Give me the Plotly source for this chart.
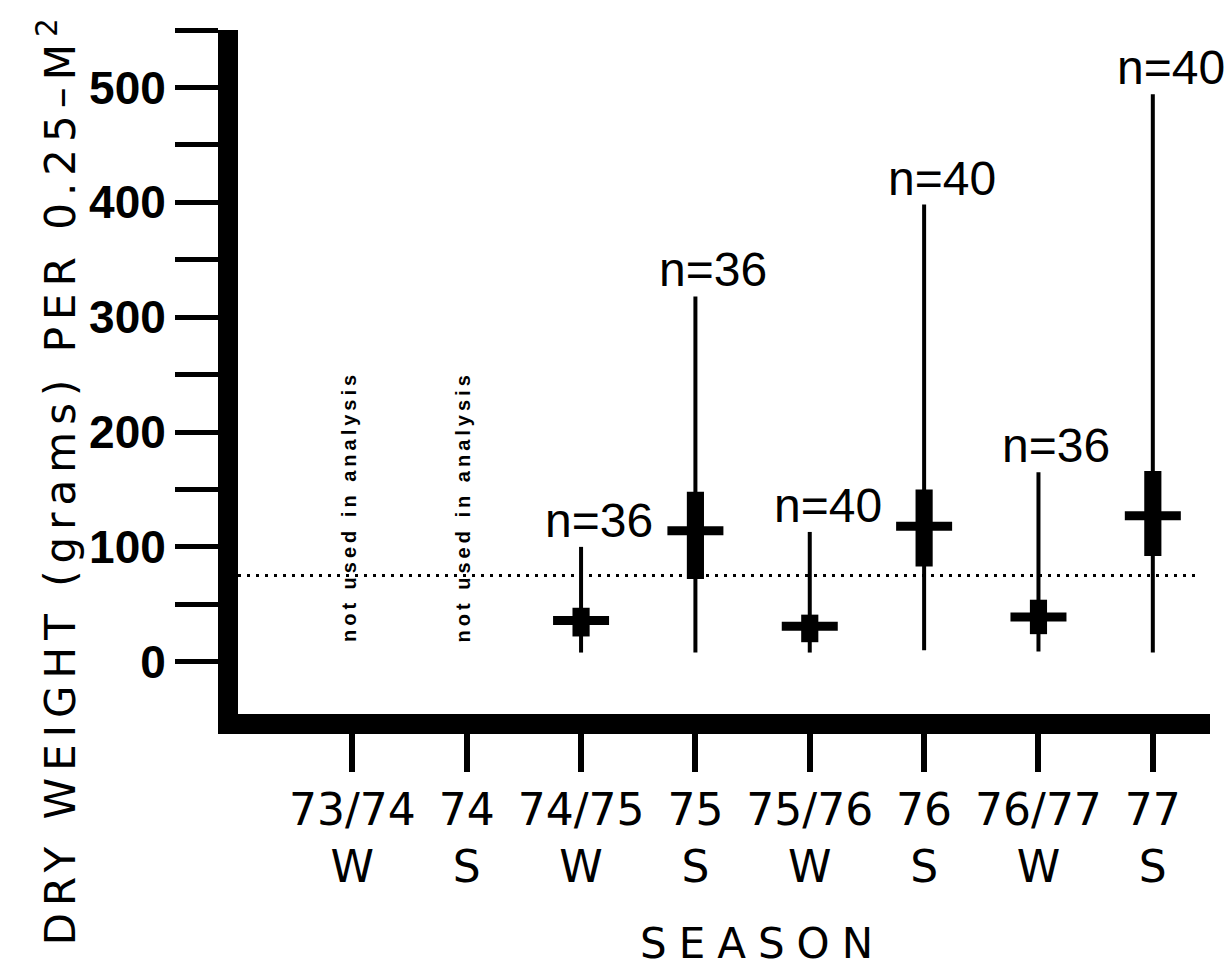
import plotly.graph_objects as go

# ---------------- data ----------------
seasons = ["73/74<br>W", "74<br>S", "74/75<br>W", "75<br>S",
           "75/76<br>W", "76<br>S", "76/77<br>W", "77<br>S"]
excluded_idx = [0, 1]
used_idx = [2, 3, 4, 5, 6, 7]
range_min = [8, 8, 8, 10, 9, 8]
range_max = [100, 318, 113, 398, 165, 494]
box_low = [22, 72, 17, 83, 24, 92]
box_high = [47, 148, 41, 150, 54, 166]
means = [36, 114, 31, 118, 39, 127]
sample_n = [36, 36, 40, 40, 36, 40]
excluded_note = "not used in analysis"
excluded_note_level = 135
reference_level = 75
y_major = [0, 100, 200, 300, 400, 500]
y_minor = [50, 150, 250, 350, 450, 550]
y_title = "DRY WEIGHT (grams) PER 0.25\u2013M<sup>2</sup>"
x_title = "SEASON"

FONT = "Liberation Sans, Arial, Helvetica, sans-serif"
WIDE = "DejaVu Sans, Verdana, sans-serif"

fig = go.Figure()

# whiskers (min-max)
wx, wy = [], []
for i, lo, hi in zip(used_idx, range_min, range_max):
    wx += [i, i, None]
    wy += [lo, hi, None]
fig.add_trace(go.Scatter(x=wx, y=wy, mode="lines",
                         line=dict(color="black", width=4),
                         hoverinfo="skip", showlegend=False))

# thick boxes
fig.add_trace(go.Bar(x=used_idx,
                     y=[h - l for l, h in zip(box_low, box_high)],
                     base=box_low, width=0.15,
                     marker=dict(color="black", line=dict(width=0)),
                     showlegend=False))

# mean bars
fig.add_trace(go.Scatter(x=used_idx, y=means, mode="markers",
                         marker=dict(symbol="line-ew", size=40,
                                     line=dict(color="black", width=9)),
                         showlegend=False))

# reference dotted line
fig.add_shape(type="line", xref="paper", yref="y", x0=0.0, x1=0.99,
              y0=reference_level, y1=reference_level,
              line=dict(color="black", width=3, dash="3px,6px"))

# n labels
for i, hi, n in zip(used_idx, range_max, sample_n):
    fig.add_annotation(x=i, y=hi, text=f"n={n}", showarrow=False,
                       yanchor="bottom", xanchor="center", xshift=18, yshift=-2,
                       font=dict(family=FONT, size=48, color="black"))

# excluded notes
for i in excluded_idx:
    fig.add_annotation(x=i, y=excluded_note_level,
                       text=f'<span style="letter-spacing:4px">{excluded_note}</span>',
                       showarrow=False, textangle=-90, xshift=-4,
                       font=dict(family=FONT, size=20, color="black", weight="bold"))

# y axis title
fig.add_annotation(xref="paper", yref="paper", x=-0.186, y=0.345,
                   xanchor="center", yanchor="middle", showarrow=False,
                   textangle=-90,
                   text=f'<span style="letter-spacing:7px">{y_title}</span>',
                   font=dict(family=WIDE, size=42, color="black"))

# x axis title
fig.add_annotation(xref="paper", yref="paper", x=0.540, y=-0.335,
                   xanchor="center", yanchor="middle", showarrow=False,
                   text=f'<span style="letter-spacing:12px">{x_title}</span>',
                   font=dict(family=WIDE, size=42, color="black"))

fig.update_layout(
    width=1231, height=973,
    margin=dict(l=238, r=21, t=30, b=259),
    paper_bgcolor="white", plot_bgcolor="white",
    showlegend=False, barmode="overlay",
    font=dict(family=FONT, color="black"),
    xaxis=dict(range=[-1.0, 7.5], tickmode="array",
               tickvals=list(range(len(seasons))), ticktext=seasons,
               ticks="outside", ticklen=38, tickwidth=6, tickcolor="black",
               showline=True, linewidth=20, linecolor="black",
               showgrid=False, zeroline=False,
               tickfont=dict(family=WIDE, size=44, color="black")),
    yaxis=dict(range=[-45.5, 550], tickmode="array", tickvals=y_major,
               ticks="outside", ticklen=43, tickwidth=5, tickcolor="black",
               minor=dict(tickmode="array", tickvals=y_minor, ticks="outside",
                          ticklen=43, tickwidth=5, tickcolor="black",
                          showgrid=False),
               showline=True, linewidth=20, linecolor="black",
               showgrid=False, zeroline=False,
               tickfont=dict(family=FONT, size=46, color="black", weight="bold")),
)

fig.write_html("out.html")
